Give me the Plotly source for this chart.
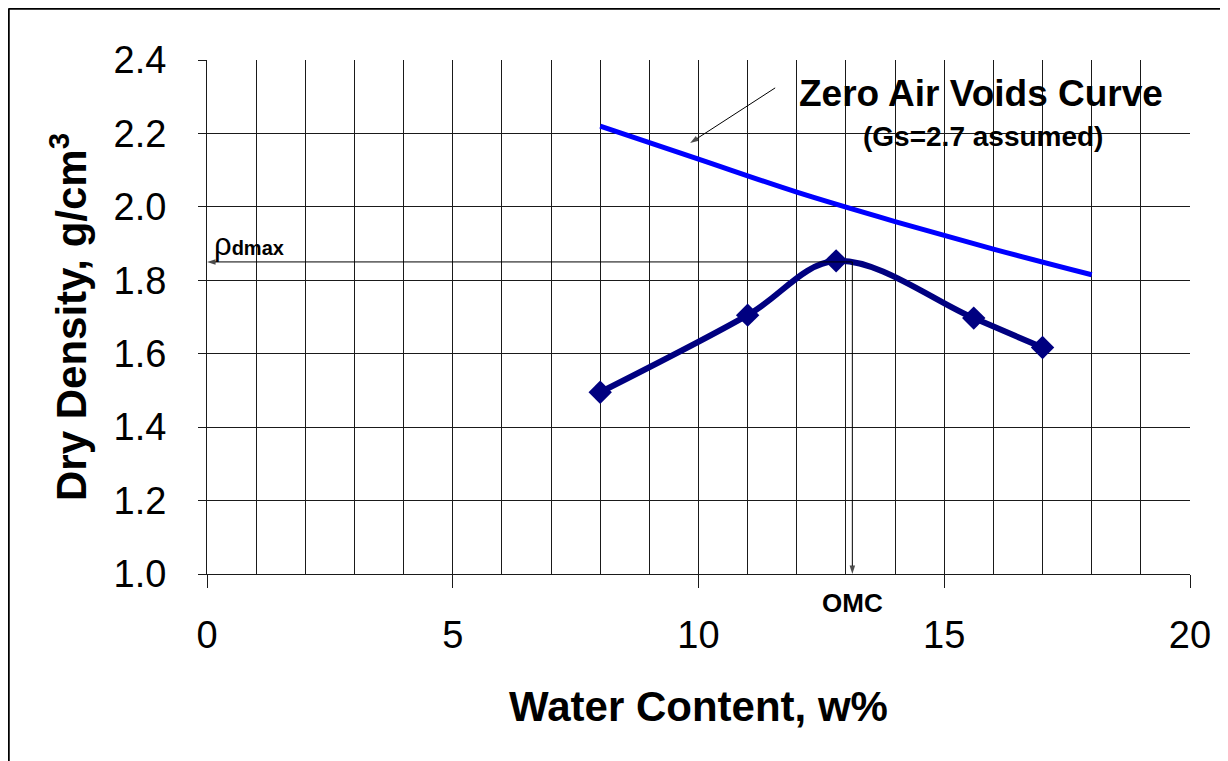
import plotly.graph_objects as go

# Compaction test data
water_content = [8.0, 11.0, 12.8, 15.6, 17.0]
dry_density = [1.495, 1.705, 1.853, 1.697, 1.617]

# Zero air voids curve (Gs = 2.7)
zav_w = [8, 10, 12, 14, 16, 18]
zav_rho = [2.22, 2.13, 2.04, 1.96, 1.885, 1.815]

# Reference values
omc = 13.13
rho_dmax = 1.85
axis_min_w = 0.0
axis_min_rho = 1.0

# Pointer to the zero air voids curve (tail -> head)
pointer_w = [11.56, 9.83]
pointer_rho = [2.324, 2.174]

x_ticks = [0, 5, 10, 15, 20]
y_ticks = [1.0, 1.2, 1.4, 1.6, 1.8, 2.0, 2.2, 2.4]

FONT = "Liberation Sans, Arial, sans-serif"
GRID = "#1a1a1a"

W, H = 1228, 761
OFF = 8  # page body margin
ML, MR, MT, MB = 207 - OFF, W - (1190 - OFF), 60 - OFF, H - (574 - OFF)
PW, PH = W - ML - MR, H - MT - MB


def px_x(sx):
    return (sx - OFF - ML) / PW


def px_y(sy):
    return 1 - (sy - OFF - MT) / PH


fig = go.Figure()

fig.add_trace(go.Scatter(
    x=zav_w, y=zav_rho, mode="lines",
    line=dict(color="#0000FF", width=5, shape="spline", smoothing=1.0),
    showlegend=False, hoverinfo="skip"))

fig.add_trace(go.Scatter(
    x=water_content, y=dry_density, mode="lines+markers",
    line=dict(color="#000080", width=6, shape="spline", smoothing=1.0),
    marker=dict(symbol="diamond", size=18, color="#000080"),
    showlegend=False))


def arrow_trace(xs, ys):
    return go.Scatter(
        x=xs, y=ys, mode="lines+markers", cliponaxis=False,
        line=dict(color="black", width=1),
        marker=dict(symbol=["circle", "arrow"], size=[0, 9], color="black",
                    angleref="previous", line=dict(width=0)),
        showlegend=False, hoverinfo="skip")


fig.add_trace(arrow_trace([omc, axis_min_w], [rho_dmax, rho_dmax]))
fig.add_trace(arrow_trace([omc, omc], [rho_dmax, axis_min_rho]))
fig.add_trace(arrow_trace(pointer_w, pointer_rho))

fig.update_xaxes(
    range=[0, 20], tickvals=x_ticks, ticktext=[str(v) for v in x_ticks],
    showgrid=True, gridcolor=GRID, gridwidth=1,
    ticks="outside", ticklen=13, tickcolor=GRID,
    showline=True, linecolor=GRID, linewidth=1,
    zeroline=False, ticklabelstandoff=14,
    tickfont=dict(family=FONT, size=38, color="black"),
    title=dict(text="<b>Water Content, w%</b>",
               font=dict(family=FONT, size=42, color="black"), standoff=37),
    minor=dict(showgrid=True, gridcolor=GRID, gridwidth=1, tickvals=list(range(0, 21))),
)
fig.update_yaxes(
    range=[1.0, 2.4], tickvals=y_ticks, ticktext=[f"{v:.1f}" for v in y_ticks],
    showgrid=True, gridcolor=GRID, gridwidth=1,
    ticks="outside", ticklen=8, tickcolor=GRID,
    showline=True, linecolor=GRID, linewidth=1,
    zeroline=False, ticklabelstandoff=24,
    tickfont=dict(family=FONT, size=38, color="black"),
    title=dict(text="<b>Dry Density, g/cm<sup>3</sup></b>",
               font=dict(family=FONT, size=42, color="black"), standoff=13),
)

annotations = [
    dict(x=px_x(981), y=px_y(93), xref="paper", yref="paper", xanchor="center", yanchor="middle",
         text="<b>Zero Air Voids Curve</b>",
         showarrow=False, font=dict(family=FONT, size=37, color="black")),
    dict(x=px_x(983), y=px_y(136), xref="paper", yref="paper", xanchor="center", yanchor="middle",
         text="<b>(Gs=2.7 assumed)</b>",
         showarrow=False, font=dict(family=FONT, size=28, color="black")),
    dict(x=px_x(852), y=px_y(603), xref="paper", yref="paper", xanchor="center", yanchor="middle",
         text="<b>OMC</b>",
         showarrow=False, font=dict(family=FONT, size=26, color="black")),
    dict(x=px_x(212), y=px_y(244), xref="paper", yref="paper", xanchor="left", yanchor="middle",
         text="ρ<b><span style='font-size:20px'>dmax</span></b>",
         showarrow=False, font=dict(family=FONT, size=31, color="black")),
]

frame_y = px_y(8.5)
frame_x = px_x(8.5)

fig.update_layout(
    width=W, height=H,
    margin=dict(l=ML, r=MR, t=MT, b=MB),
    paper_bgcolor="white", plot_bgcolor="white",
    annotations=annotations,
    shapes=[
        dict(type="line", xref="paper", yref="paper",
             x0=frame_x, x1=px_x(1300), y0=frame_y, y1=frame_y,
             line=dict(color="black", width=2.5)),
        dict(type="line", xref="paper", yref="paper",
             x0=frame_x, x1=frame_x, y0=frame_y, y1=px_y(800),
             line=dict(color="black", width=2.5)),
    ],
)

fig.write_html("out.html")
